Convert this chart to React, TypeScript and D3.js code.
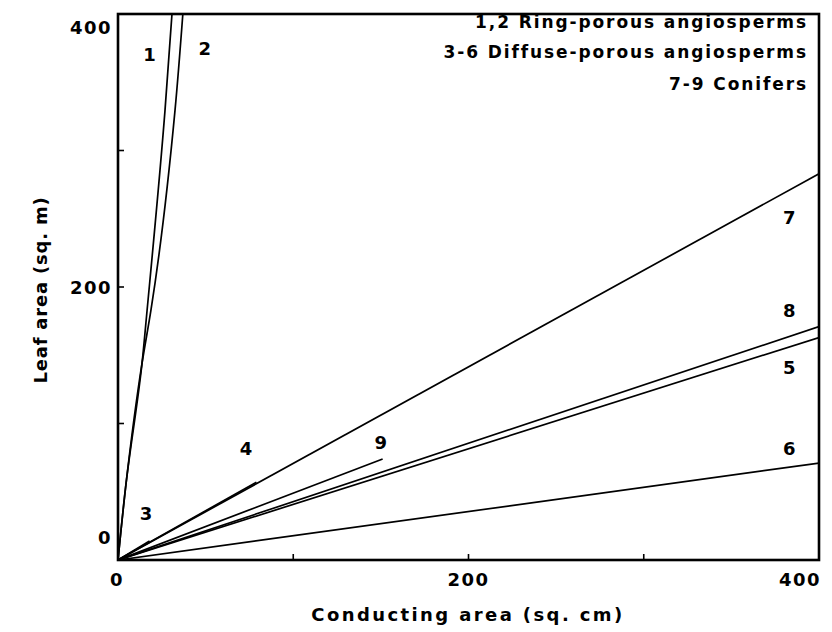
import React from "react";
import * as d3 from "d3";

const xTickLabels = [0, 200, 400];
const yTickLabels = [0, 200, 400];
const minorTicks = [100, 200, 300];

const legendLines = [
  "1,2 Ring-porous angiosperms",
  "3-6 Diffuse-porous angiosperms",
  "7-9 Conifers",
];

// series points: [conducting area (sq. cm), leaf area (sq. m)]
const line1: [number, number][] = [[0, 0], [4.5, 55], [13.7, 144], [16.6, 183], [26.8, 329], [30.8, 400]];
const line2: [number, number][] = [[0, 0], [4.5, 55], [13.7, 144], [18.8, 183], [32.5, 329], [37, 400]];
const line3: [number, number][] = [[0, 0], [18, 14]];
const line4: [number, number][] = [[0, 0], [79, 57]];
const line5: [number, number][] = [[0, 0], [400, 163]];
const line6: [number, number][] = [[0, 0], [400, 71]];
const line7: [number, number][] = [[0, 0], [400, 283]];
const line8: [number, number][] = [[0, 0], [400, 171]];
const line9: [number, number][] = [[0, 0], [151, 74]];

const seriesNames = ["1", "2", "3", "4", "5", "6", "7", "8", "9"];
const seriesData = [line1, line2, line3, line4, line5, line6, line7, line8, line9];
// label anchor positions in data units
const labelX = [18, 49.5, 16, 73, 383, 383, 383, 383, 150];
const labelY = [370, 375, 34, 82, 141, 82, 251, 183, 86];

const FONT = "'DejaVu Sans', 'Liberation Sans', Arial, sans-serif";

export default function App() {
  const x = d3.scaleLinear().domain([0, 400]).range([118, 819]);
  const y = d3.scaleLinear().domain([0, 400]).range([560, 14]);
  const lineGen = d3
    .line<[number, number]>()
    .x((d) => x(d[0]))
    .y((d) => y(d[1]))
    .curve(d3.curveMonotoneY);

  const yLabelPos = (v: number) => (v === 400 ? y(v) + 13 : v === 0 ? y(v) - 23 : y(v));
  const xLabelAnchor = (v: number) => (v === 400 ? "end" : "middle");
  const xLabelPos = (v: number) => (v === 400 ? x(v) + 2 : v === 0 ? x(v) - 1 : x(v));

  return (
    <svg width={832} height={632} style={{ display: "block", position: "absolute", left: 0, top: 0 }}>
      <rect x={0} y={0} width={832} height={632} fill="#ffffff" />
      <defs>
        <clipPath id="plot">
          <rect x={x(0)} y={y(400)} width={x(400) - x(0)} height={y(0) - y(400)} />
        </clipPath>
      </defs>
      <g clipPath="url(#plot)">
        {seriesData.map((d, i) => (
          <path key={i} d={lineGen(d) || ""} fill="none" stroke="#000" strokeWidth={1.7} />
        ))}
      </g>
      <rect
        x={x(0)}
        y={y(400)}
        width={x(400) - x(0)}
        height={y(0) - y(400)}
        fill="none"
        stroke="#000"
        strokeWidth={2.6}
      />
      {minorTicks.map((t) => (
        <g key={t}>
          <line x1={x(t)} x2={x(t)} y1={y(0)} y2={y(0) - 6} stroke="#000" strokeWidth={1.6} />
          <line x1={x(0)} x2={x(0) + 6} y1={y(t)} y2={y(t)} stroke="#000" strokeWidth={1.6} />
        </g>
      ))}
      <g fontFamily={FONT} fontWeight="bold" fontSize={18} fill="#000">
        {yTickLabels.map((t) => (
          <text key={t} x={112} y={yLabelPos(t)} textAnchor="end" dominantBaseline="central" letterSpacing={1.5}>
            {t}
          </text>
        ))}
        {xTickLabels.map((t) => (
          <text key={t} x={xLabelPos(t)} y={579} textAnchor={xLabelAnchor(t)} dominantBaseline="central" letterSpacing={1.5}>
            {t}
          </text>
        ))}
        <text x={468} y={614} textAnchor="middle" dominantBaseline="central" letterSpacing={2.4}>
          Conducting area (sq. cm)
        </text>
        <text
          transform={`translate(40, 290) rotate(-90)`}
          textAnchor="middle"
          dominantBaseline="central"
          letterSpacing={0.8}
        >
          Leaf area (sq. m)
        </text>
        {seriesNames.map((n, i) => (
          <text key={n} x={x(labelX[i])} y={y(labelY[i])} textAnchor="middle" dominantBaseline="central">
            {n}
          </text>
        ))}
      </g>
      <g fontFamily={FONT} fontWeight="bold" fontSize={17} fill="#000" letterSpacing={1.9}>
        {legendLines.map((l, i) => (
          <text key={i} x={808} y={[22, 52, 84][i]} textAnchor="end" dominantBaseline="central">
            {l}
          </text>
        ))}
      </g>
    </svg>
  );
}
